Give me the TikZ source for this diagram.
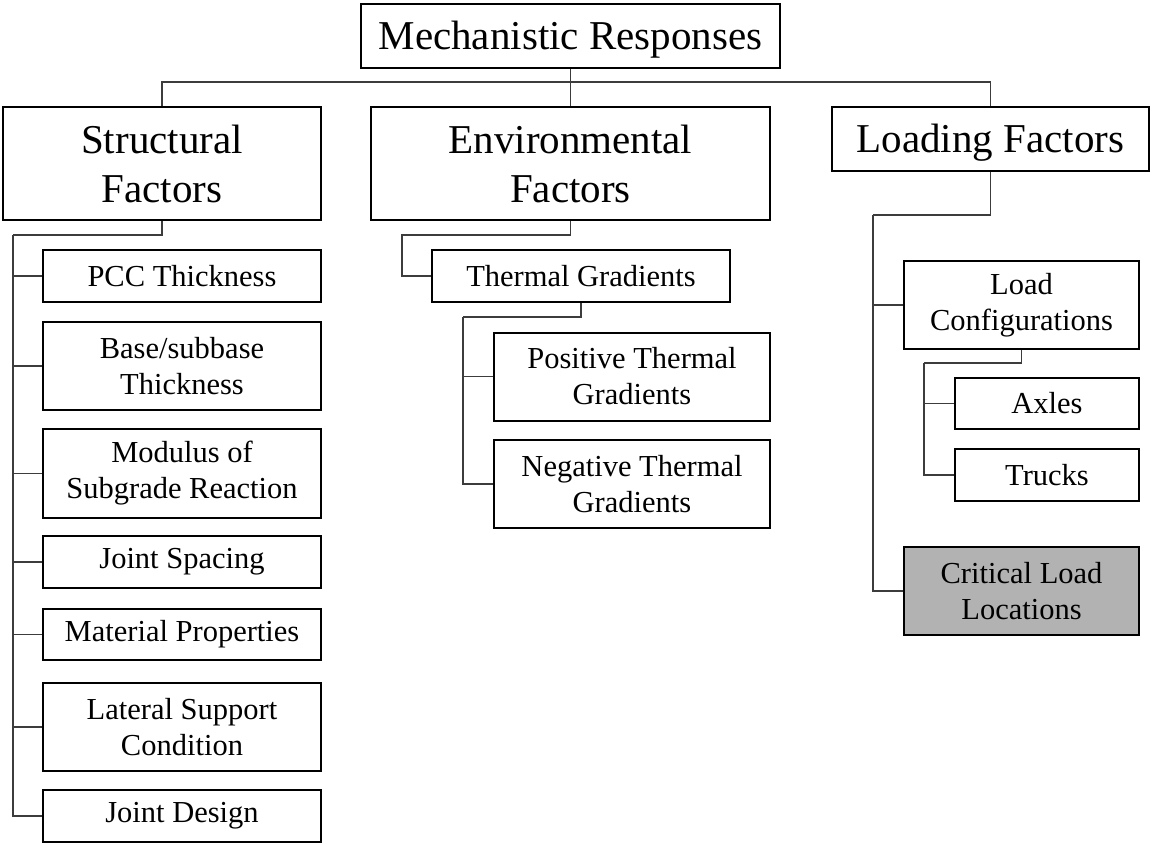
\documentclass[tikz,border=0pt]{standalone}
\usepackage{fontspec}
\setmainfont{Liberation Serif}
\definecolor{critfill}{RGB}{178,178,178}
\definecolor{connc}{RGB}{60,60,60}
\begin{document}
\begin{tikzpicture}[x=1pt,y=-1pt,
  box/.style={draw=black,line width=2pt,rectangle,inner sep=0pt,align=center,text=black},
  bigtext/.style={font=\fontsize{41}{49}\selectfont},
  smalltext/.style={font=\fontsize{30.5}{36}\selectfont},
  oneline/.style={text height=27pt,text depth=0pt},
  conn/.style={draw=connc,line width=1.3pt}]
\useasboundingbox (0,0) rectangle (1150,844);
% top level
\node[box,bigtext,oneline,minimum width=419pt,minimum height=64pt] (mech) at (570.5,36) {Mechanistic Responses};
\node[box,bigtext,minimum width=318pt,minimum height=113pt] (struct) at (162,163.5) {Structural\\Factors};
\node[box,bigtext,minimum width=399pt,minimum height=113pt] (env) at (570.5,163.5) {Environmental\\Factors};
\node[box,bigtext,oneline,minimum width=317pt,minimum height=64pt] (load) at (990.5,139) {Loading Factors};
% structural children
\node[box,smalltext,minimum width=278pt,minimum height=52pt] (pcc) at (182,276) {PCC Thickness};
\node[box,smalltext,minimum width=278pt,minimum height=88pt] (base) at (182,366) {Base/subbase\\Thickness};
\node[box,smalltext,minimum width=278pt,minimum height=89pt] (modulus) at (182,473.5) {Modulus of\\Subgrade Reaction};
\node[box,smalltext,minimum width=278pt,minimum height=52pt] (jspacing) at (182,562) {Joint Spacing};
\node[box,smalltext,minimum width=278pt,minimum height=51pt] (material) at (182,634.5) {Material Properties};
\node[box,smalltext,minimum width=278pt,minimum height=88pt] (lateral) at (182,727) {Lateral Support\\Condition};
\node[box,smalltext,minimum width=278pt,minimum height=52pt] (jdesign) at (182,816) {Joint Design};
% environmental children
\node[box,smalltext,minimum width=298pt,minimum height=52pt] (thermal) at (581,276) {Thermal Gradients};
\node[box,smalltext,minimum width=276pt,minimum height=88pt] (pos) at (632,376.5) {Positive Thermal\\Gradients};
\node[box,smalltext,minimum width=276pt,minimum height=88pt] (neg) at (632,484) {Negative Thermal\\Gradients};
% loading children
\node[box,smalltext,minimum width=235pt,minimum height=88pt] (lconf) at (1021.5,305) {Load\\Configurations};
\node[box,smalltext,minimum width=184pt,minimum height=51pt] (axles) at (1047,403.5) {Axles};
\node[box,smalltext,minimum width=184pt,minimum height=52pt] (trucks) at (1047,475) {Trucks};
\node[box,smalltext,fill=critfill,minimum width=235pt,minimum height=88pt] (crit) at (1021.5,591) {Critical Load\\Locations};
% junction coordinates
\coordinate (bus) at (570.5,82);
\coordinate (sj) at (13,235);
\coordinate (ej) at (402,235);
\coordinate (tj) at (463,317);
\coordinate (lj) at (873,215);
\coordinate (cj) at (924,363);
% connectors
\draw[conn] (struct.north) |- (bus) -| (load.north);
\draw[conn] (mech.south) -- (env.north);
\draw[conn] (struct.south) |- (sj);
\foreach \c in {pcc,base,modulus,jspacing,material,lateral,jdesign} \draw[conn] (sj) |- (\c.west);
\draw[conn] (env.south) |- (ej) |- (thermal.west);
\draw[conn] (thermal.south) |- (tj);
\draw[conn] (tj) |- (pos.west);
\draw[conn] (tj) |- (neg.west);
\draw[conn] (load.south) |- (lj);
\draw[conn] (lj) |- (lconf.west);
\draw[conn] (lj) |- (crit.west);
\draw[conn] (lconf.south) |- (cj);
\draw[conn] (cj) |- (axles.west);
\draw[conn] (cj) |- (trucks.west);
\end{tikzpicture}
\end{document}
